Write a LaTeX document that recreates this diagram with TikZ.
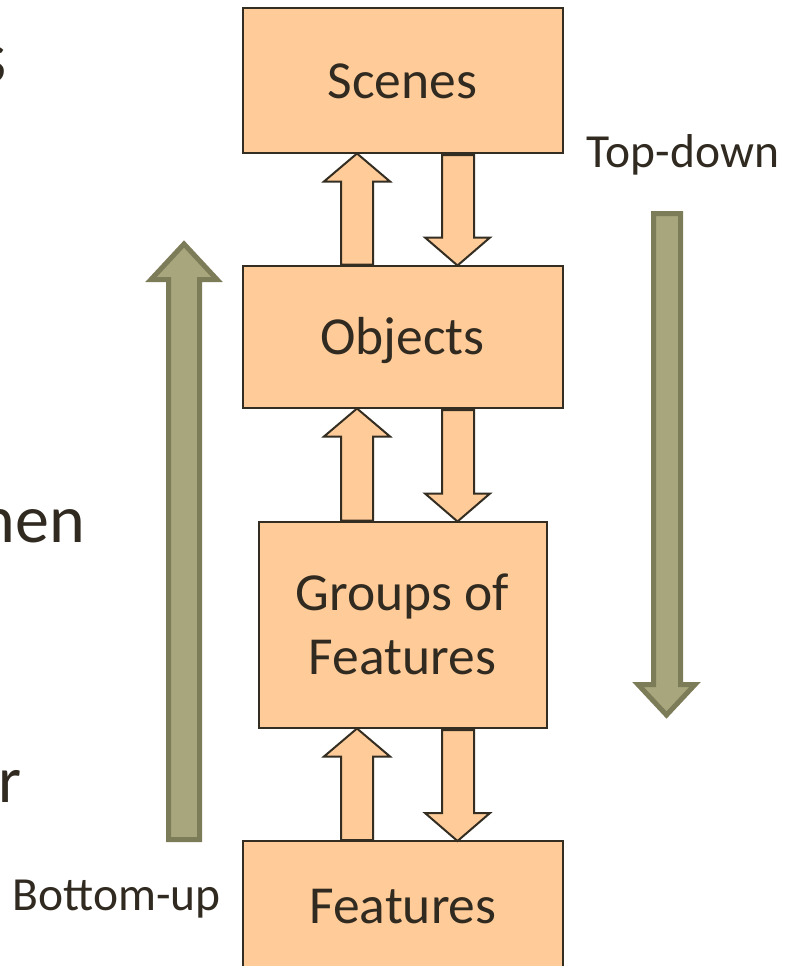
\documentclass[tikz,border=0pt]{standalone}
\usepackage{fontspec}
\setmainfont{Carlito}
\usetikzlibrary{calc}
\definecolor{boxfill}{RGB}{255,204,153}
\definecolor{boxline}{RGB}{52,46,34}
\definecolor{txt}{RGB}{48,42,32}
\definecolor{olivefill}{RGB}{168,166,124}
\definecolor{oliveline}{RGB}{125,124,89}
\tikzset{
  levelbox/.style={draw=boxline, fill=boxfill, line width=2pt, text=txt,
    font=\fontsize{53.5}{64}\selectfont, inner sep=0pt, align=center},
  onelinebox/.style={levelbox, text height=36pt, text depth=0pt},
  barrow/.style={draw=boxline, fill=boxfill, line width=2pt, line join=miter},
  bigarrow/.style={draw=oliveline, fill=olivefill, line width=5pt, line join=miter},
  sidelabel/.style={text=txt, font=\fontsize{47.5}{56}\selectfont, inner sep=0pt, anchor=base},
  cutlabel/.style={text=txt, inner sep=0pt, anchor=base east},
}
\newcommand{\arrowpair}[2]{%
  \draw[barrow] let \p1=(#1.south), \p2=(#2.north) in
    ({\x1-61.5pt},{\y2}) -- ({\x1-61.5pt},{\y1-28pt}) -- ({\x1-78.5pt},{\y1-28pt})
    -- ({\x1-45.5pt},{\y1}) -- ({\x1-12.5pt},{\y1-28pt}) -- ({\x1-29.5pt},{\y1-28pt})
    -- ({\x1-29.5pt},{\y2}) -- cycle;
  \draw[barrow] let \p1=(#1.south), \p2=(#2.north) in
    ({\x1+39.5pt},{\y1-1.5pt}) -- ({\x1+39.5pt},{\y2+27pt}) -- ({\x1+22.5pt},{\y2+27pt})
    -- ({\x1+55pt},{\y2-1pt}) -- ({\x1+87.5pt},{\y2+27pt}) -- ({\x1+71.5pt},{\y2+27pt})
    -- ({\x1+71.5pt},{\y1-1.5pt}) -- cycle;
}
\begin{document}
\begin{tikzpicture}[x=1pt,y=-1pt]
\useasboundingbox (0,0) rectangle (790,966);
\clip (0,0) rectangle (790,966);
\fill[white] (0,0) rectangle (790,966);

% cut-off slide text at the left edge
\node[cutlabel, font=\fontsize{75}{90}\selectfont] (c1) at (7,82) {s};
\node[cutlabel, font=\fontsize{68}{80}\selectfont] (c2) at (85,542) {nen};
\node[cutlabel, font=\fontsize{66}{80}\selectfont] (c3) at (22,802) {r};

% level boxes
\node[onelinebox, minimum width=320pt, minimum height=144pt] (scn) at (402.5,80.5) {Scenes};
\node[onelinebox, minimum width=320pt, minimum height=142pt] (obj) at (402.5,336.5) {Objects};
\node[levelbox, minimum width=288pt, minimum height=206pt] (grp) at (402.5,624.5) {Groups of\\Features};
\node[onelinebox, minimum width=320pt, minimum height=129pt] (fea) at (403,905.5) {Features};

% block arrows between levels
\arrowpair{scn}{obj}
\arrowpair{obj}{grp}
\arrowpair{grp}{fea}

% big olive arrows
\draw[bigarrow] (168.5,839.5) -- (168.5,279.5) -- (151,279.5) -- (184,244) -- (217,279.5)
  -- (199.5,279.5) -- (199.5,839.5) -- cycle;
\draw[bigarrow] (653.5,213.5) -- (653.5,684.5) -- (638,684.5) -- (666.5,715) -- (695,684.5)
  -- (680.5,684.5) -- (680.5,213.5) -- cycle;

% side labels
\node[sidelabel] (td) at (683,167) {Top-down};
\node[sidelabel] (bu) at (116.5,910) {Bottom-up};
\end{tikzpicture}
\end{document}
